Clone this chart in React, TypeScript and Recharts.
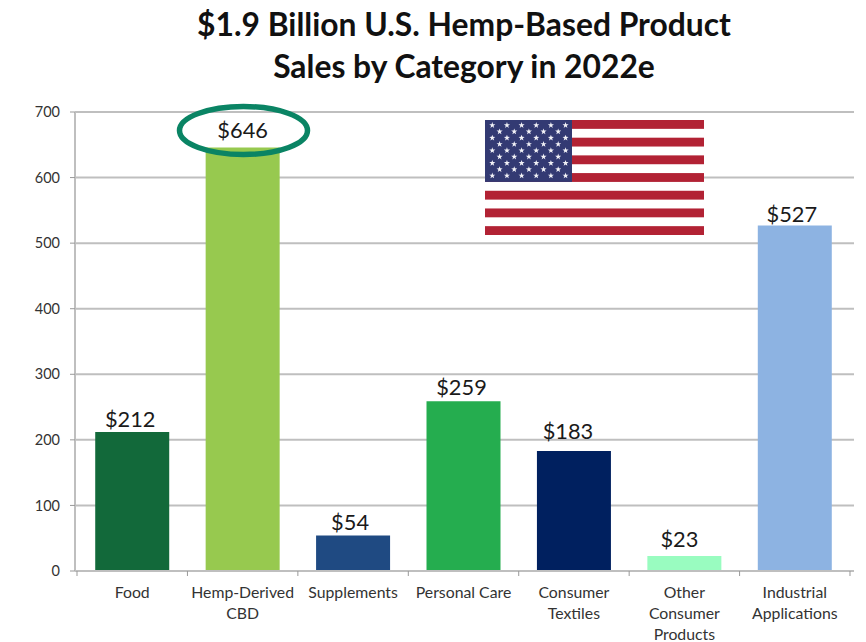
import React from 'react';
import { BarChart, Bar, Cell, XAxis, YAxis, CartesianGrid, LabelList } from 'recharts';

const categories = [
  'Food',
  'Hemp-Derived|CBD',
  'Supplements',
  'Personal Care',
  'Consumer|Textiles',
  'Other|Consumer|Products',
  'Industrial|Applications',
];
const sales = [212, 646, 54, 259, 183, 23, 527];
const barColors = ['#12693a', '#97c94f', '#1f4a82', '#25ad4f', '#00205f', '#99fcc0', '#8db3e2'];
const yTicks = [0, 100, 200, 300, 400, 500, 600, 700];
const titleLines = ['$1.9 Billion U.S. Hemp-Based Product', 'Sales by Category in 2022e'];

// hand placement of the value labels, relative to the top centre of each bar
const labelShiftX = [-2, 0, -3, -2, -6, -5, -3];
const labelLift = [5, 9, 6, 6, 12, 9, 3];

const rows = categories.map((category, i) => ({ category, sales: sales[i] }));

const FONT = 'Lato, "Open Sans", sans-serif';
const AXIS_GREY = '#bfbfbf';
const HALF_BAND = 55.2;

// category labels can wrap, and the tick marks sit between the bars
const CategoryTick = ({ x, y, payload, index, visibleTicksCount }: any) => {
  const top = y - 8;
  return (
    <g>
      <line x1={x - HALF_BAND} x2={x - HALF_BAND} y1={top} y2={top + 5} stroke="#999" />
      {index === visibleTicksCount - 1 && (
        <line x1={x + HALF_BAND} x2={x + HALF_BAND} y1={top} y2={top + 5} stroke="#999" />
      )}
      <text x={x} y={y} textAnchor="middle" fontFamily={FONT} fontSize={15.8} fill="#333">
        {String(payload.value)
          .split('|')
          .map((line, i) => (
            <tspan key={line} x={x} y={y + 19 + i * 21}>
              {line}
            </tspan>
          ))}
      </text>
    </g>
  );
};

const ValueLabel = ({ x, y, width, value, index }: any) => (
  <text
    x={x + width / 2 + labelShiftX[index]}
    y={y - labelLift[index]}
    textAnchor="middle"
    fontFamily={FONT}
    fontSize={21.8}
    fill="#1a1a1a"
  >
    {`$${value}`}
  </text>
);

const starPath = (cx: number, cy: number, r: number) => {
  let d = '';
  for (let i = 0; i < 10; i++) {
    const radius = i % 2 === 0 ? r : r * 0.4;
    const angle = (Math.PI / 5) * i - Math.PI / 2;
    d += `${i === 0 ? 'M' : 'L'}${cx + radius * Math.cos(angle)} ${cy + radius * Math.sin(angle)}`;
  }
  return d + 'Z';
};

// 13 stripes, blue canton with 6/5 staggered star rows
const Flag = () => {
  const w = 219;
  const h = 115;
  const stripe = h / 13;
  const cantonW = 87;
  const cantonH = stripe * 7;
  const stars: string[] = [];
  for (let row = 0; row < 9; row++) {
    const count = row % 2 === 0 ? 6 : 5;
    for (let col = 0; col < count; col++) {
      const cx = 7.3 + col * 14.65 + (row % 2 === 0 ? 0 : 7.3);
      const cy = 5.3 + row * 6.3;
      stars.push(starPath(cx, cy, 3.2));
    }
  }
  return (
    <svg width={w} height={h} style={{ position: 'absolute', left: 485, top: 120 }}>
      <rect width={w} height={h} fill="#fff" />
      {Array.from({ length: 7 }, (_, i) => (
        <rect key={i} y={i * 2 * stripe} width={w} height={stripe} fill="#b22234" />
      ))}
      <rect width={cantonW} height={cantonH} fill="#333a73" />
      <path d={stars.join('')} fill="#f2f2f7" />
    </svg>
  );
};

export default function App() {
  return (
    <div style={{ position: 'absolute', left: 0, top: 0, width: 866, height: 642, background: '#fff', overflow: 'hidden' }}>
      <div
        style={{
          position: 'absolute',
          left: 0,
          top: 3,
          width: 928,
          textAlign: 'center',
          fontFamily: FONT,
          fontWeight: 700,
          fontSize: 31.8,
          lineHeight: '42px',
          color: '#111',
        }}
      >
        {titleLines.map((line) => (
          <div key={line}>{line}</div>
        ))}
      </div>
      <BarChart
        width={866}
        height={642}
        data={rows}
        barCategoryGap="16.5%"
        margin={{ top: 112, right: 12, bottom: 0, left: 0 }}
      >
        <CartesianGrid horizontal vertical={false} stroke={AXIS_GREY} strokeWidth={2} />
        <XAxis
          dataKey="category"
          height={71}
          interval={0}
          padding={{ left: 2, right: 4 }}
          tick={<CategoryTick />}
          axisLine={{ stroke: AXIS_GREY, strokeWidth: 2 }}
          tickLine={false}
          tickSize={6}
          tickMargin={2}
        />
        <YAxis
          width={75}
          domain={[0, 700]}
          ticks={yTicks}
          interval={0}
          tickSize={5}
          tickMargin={10}
          tick={{ fontFamily: FONT, fontSize: 14.5, fill: '#333' }}
          axisLine={{ stroke: AXIS_GREY, strokeWidth: 2 }}
          tickLine={{ stroke: '#999' }}
        />
        <Bar dataKey="sales" isAnimationActive={false}>
          {rows.map((row, i) => (
            <Cell key={row.category} fill={barColors[i]} />
          ))}
          <LabelList dataKey="sales" content={<ValueLabel />} />
        </Bar>
      </BarChart>
      <Flag />
      <svg width={866} height={642} style={{ position: 'absolute', left: 0, top: 0, pointerEvents: 'none' }}>
        <ellipse cx={243.5} cy={130.5} rx={64} ry={24} fill="none" stroke="#0a8464" strokeWidth={5.5} />
      </svg>
    </div>
  );
}
